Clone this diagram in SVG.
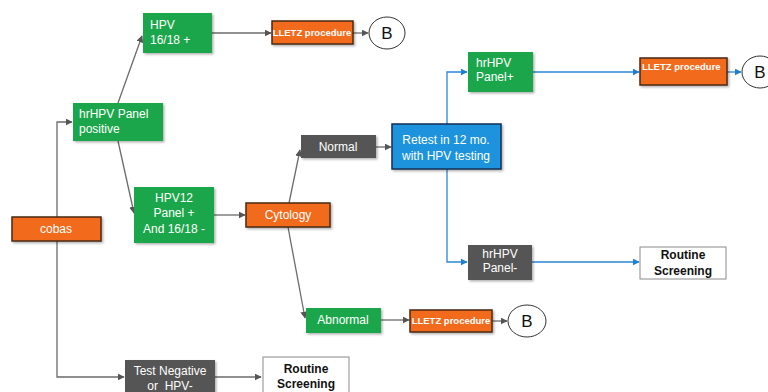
<svg xmlns="http://www.w3.org/2000/svg" width="768" height="392" viewBox="0 0 768 392">
<defs>
<marker id="ag" viewBox="0 0 10 10" refX="9" refY="5" markerWidth="7" markerHeight="7" markerUnits="userSpaceOnUse" orient="auto"><path d="M0,0 L10,5 L0,10 z" fill="#555"/></marker>
<marker id="ab" viewBox="0 0 10 10" refX="9" refY="5" markerWidth="7" markerHeight="7" markerUnits="userSpaceOnUse" orient="auto"><path d="M0,0 L10,5 L0,10 z" fill="#1f7fd0"/></marker>
<filter id="sh" x="-10%" y="-10%" width="130%" height="140%"><feDropShadow dx="1.5" dy="1.5" stdDeviation="1" flood-color="#000" flood-opacity="0.3"/></filter>
</defs>
<style>
text{font-family:"Liberation Sans",Arial,sans-serif;font-size:12px;fill:#fff}
.g{fill:#1ca64b;filter:url(#sh)}
.o{fill:#f26b1d;stroke:#4a2a10;stroke-width:1.5;filter:url(#sh)}
.d{fill:#555555;filter:url(#sh)}
.bl{fill:#1c93dc;stroke:#0f2f55;stroke-width:1.5;filter:url(#sh)}
.w{fill:#fff;stroke:#8a8a8a;stroke-width:1}
.c{fill:#fff;stroke:#333;stroke-width:1}
.m{text-anchor:middle}
.lz{font-size:9.5px;font-weight:bold}
.k{fill:#111;font-weight:bold}
.bb{fill:#111;font-size:17px}
.cg{fill:none;stroke:#6b6b6b;stroke-width:1.3;marker-end:url(#ag)}
.cb{fill:none;stroke:#2a86d8;stroke-width:1.3;marker-end:url(#ab)}
</style>
<rect width="768" height="392" fill="#fff"/>
<g id="connectors">
<path class="cg" d="M57,217 V122 H72"/>
<path class="cg" d="M57,241 V377 H124"/>
<path class="cg" d="M118,103 L142,36"/>
<path class="cg" d="M118,141 L134,213"/>
<path class="cg" d="M212,33 H271"/>
<path class="cg" d="M353,33 H368"/>
<path class="cg" d="M214,215 H245"/>
<path class="cg" d="M289,203 L300,150"/>
<path class="cg" d="M288,227 L305,318"/>
<path class="cg" d="M376,147 H391"/>
<path class="cg" d="M381,320 H409"/>
<path class="cg" d="M492,321 H507"/>
<path class="cg" d="M215,377 H261"/>
<path class="cb" d="M447,124 V72 H467"/>
<path class="cb" d="M447,169 V262 H467"/>
<path class="cb" d="M533,72 H639"/>
<path class="cb" d="M727,72 H741"/>
<path class="cb" d="M532,262 H639"/>
</g>
<g id="cobas"><rect class="o" x="12" y="217" width="89" height="24"/><text class="m" x="56" y="233">cobas</text></g>
<g id="hrhpv-pos"><rect class="g" x="73" y="103" width="90" height="38"/><text x="79" y="118">hrHPV Panel</text><text x="79" y="133">positive</text></g>
<g id="hpv1618"><rect class="g" x="143" y="13" width="69" height="40"/><text x="150" y="29">HPV</text><text x="150" y="44">16/18 +</text></g>
<g id="lletz1"><rect class="o" x="272" y="21" width="81" height="23"/><text class="m lz" x="312" y="36">LLETZ procedure</text></g>
<g id="b1"><ellipse class="c" cx="387" cy="33" rx="18" ry="16"/><text class="m bb" x="387" y="39">B</text></g>
<g id="hpv12"><rect class="g" x="134" y="187" width="80" height="56"/><text class="m" x="174" y="202">HPV12</text><text class="m" x="174" y="217">Panel +</text><text class="m" x="174" y="233">And 16/18 -</text></g>
<g id="cytology"><rect class="o" x="246" y="203" width="84" height="24"/><text class="m" x="288" y="219">Cytology</text></g>
<g id="normal"><rect class="d" x="301" y="135" width="75" height="23"/><text class="m" x="338" y="151">Normal</text></g>
<g id="abnormal"><rect class="g" x="306" y="308" width="75" height="25"/><text class="m" x="343" y="324">Abnormal</text></g>
<g id="lletz3"><rect class="o" x="410" y="310" width="82" height="22"/><text class="m lz" x="451" y="324">LLETZ procedure</text></g>
<g id="b3"><ellipse class="c" cx="527" cy="321" rx="19" ry="16"/><text class="m bb" x="527" y="327">B</text></g>
<g id="retest"><rect class="bl" x="392" y="124" width="109" height="45"/><text class="m" x="446" y="144">Retest in 12 mo.</text><text class="m" x="446" y="160">with HPV testing</text></g>
<g id="hrhpv-plus"><rect class="g" x="468" y="52" width="65" height="40"/><text x="476" y="67">hrHPV</text><text x="476" y="81">Panel+</text></g>
<g id="lletz2"><rect class="o" x="640" y="58" width="87" height="27"/><text class="lz" x="642" y="70">LLETZ procedure</text></g>
<g id="b2"><ellipse class="c" cx="760" cy="72" rx="18" ry="16"/><text class="m bb" x="760" y="78">B</text></g>
<g id="hrhpv-minus"><rect class="d" x="468" y="245" width="64" height="35"/><text class="m" x="500" y="258">hrHPV</text><text class="m" x="500" y="272">Panel-</text></g>
<g id="routine2"><rect class="w" x="640" y="247" width="86" height="32"/><text class="m k" x="683" y="259">Routine</text><text class="m k" x="683" y="275">Screening</text></g>
<g id="testneg"><rect class="d" x="125" y="360" width="90" height="40"/><text class="m" x="170" y="375">Test Negative</text><text class="m" x="170" y="390">or&#160; HPV-</text></g>
<g id="routine1"><rect class="w" x="263" y="357" width="86" height="40"/><text class="m k" x="306" y="373">Routine</text><text class="m k" x="306" y="388">Screening</text></g>
</svg>
